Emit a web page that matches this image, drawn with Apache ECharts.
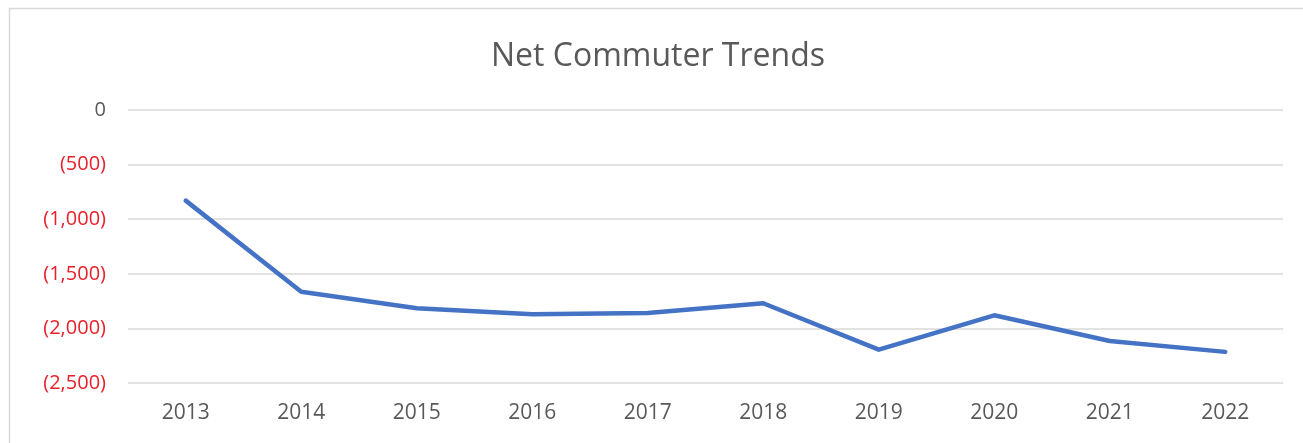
<!DOCTYPE html>
<html>
<head>
<meta charset="utf-8">
<script src="https://cdn.jsdelivr.net/npm/echarts@6/dist/echarts.min.js"></script>
<style>
  html, body { margin: 0; padding: 0; background: #ffffff; }
  #chart { width: 1303px; height: 443px; }
</style>
</head>
<body>
<div id="chart"></div>
<script>
// Net commuters per year (negative = more residents leaving than arriving)
const years = ['2013', '2014', '2015', '2016', '2017', '2018', '2019', '2020', '2021', '2022'];
const netCommuters = [-830, -1665, -1815, -1870, -1860, -1770, -2195, -1880, -2115, -2215];
const yTicks = [0, -500, -1000, -1500, -2000, -2500];

const fontFamily = '"Open Sans", "Noto Sans", sans-serif';

// Accounting-style label: negatives in parentheses
function formatAccounting(v) {
  if (v === 0) return '0';
  const s = Math.abs(v).toLocaleString('en-US');
  return v < 0 ? '(' + s + ')' : s;
}

const chart = echarts.init(document.getElementById('chart'), null, { renderer: 'canvas' });

chart.setOption({
  animation: false,
  backgroundColor: '#ffffff',
  title: {
    text: 'Net Commuter Trends',
    left: 486,
    top: 36,
    textStyle: { fontFamily: fontFamily, fontSize: 32, fontWeight: 'normal', color: '#595959' }
  },
  graphic: [{
    type: 'rect',
    shape: { x: 9.5, y: 8.5, width: 1310, height: 450 },
    style: { fill: 'none', stroke: '#d9d9d9', lineWidth: 1.5 },
    silent: true
  }],
  grid: { left: 128, right: 20, top: 110, bottom: 60 },
  xAxis: {
    type: 'category',
    data: years,
    boundaryGap: true,
    axisLine: { show: false },
    axisTick: { show: false },
    axisLabel: { fontFamily: fontFamily, fontSize: 21, color: '#595959', margin: 20 }
  },
  yAxis: {
    type: 'value',
    min: yTicks[yTicks.length - 1],
    max: yTicks[0],
    interval: 500,
    axisLine: { show: false },
    axisTick: { show: false },
    splitLine: { lineStyle: { color: '#d9d9d9', width: 1.5 } },
    axisLabel: {
      fontFamily: fontFamily,
      fontSize: 20,
      margin: 22,
      formatter: formatAccounting,
      color: function (v) { return Number(v) < 0 ? '#e8202a' : '#595959'; }
    }
  },
  series: [{
    type: 'line',
    data: netCommuters,
    showSymbol: false,
    symbol: 'none',
    lineStyle: { color: '#4472c4', width: 4.5, cap: 'round', join: 'round' }
  }]
});
</script>
</body>
</html>
